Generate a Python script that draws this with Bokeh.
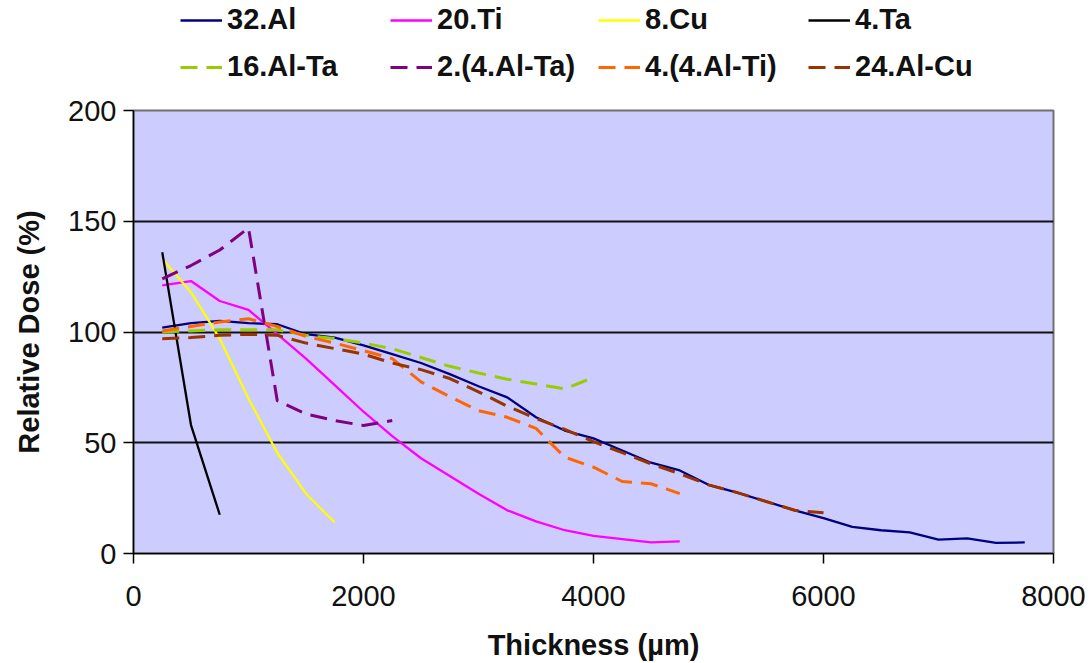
from bokeh.plotting import figure
from bokeh.models import Range1d, Legend, LegendItem, FixedTicker
from bokeh.layouts import column
from bokeh.embed import file_html
from bokeh.resources import INLINE

# ---- data ----
x_al32 = [250, 500, 750, 1000, 1250, 1500, 1750, 2000, 2250, 2500, 2750, 3000, 3250, 3500, 3750, 4000,
          4250, 4500, 4750, 5000, 5250, 5500, 5750, 6000, 6250, 6500, 6750, 7000, 7250, 7500, 7750]
y_al32 = [102, 104, 105, 104, 103.5, 99, 97.5, 94, 90, 86, 81, 75.5, 70.5, 61.5, 55.5, 52,
          46.5, 41, 37.5, 31, 27.5, 23.5, 19.5, 16, 12, 10.5, 9.5, 6.3, 6.8, 4.8, 5]

x_ti20 = [250, 500, 750, 1000, 1250, 1500, 1750, 2000, 2250, 2500, 2750, 3000, 3250, 3500, 3750, 4000,
          4250, 4500, 4750]
y_ti20 = [121, 123, 114, 110, 99, 88, 76, 64, 53, 43, 35, 27, 19.5, 14.5, 10.5, 8, 6.5, 5, 5.5]

x_cu8 = [250, 500, 750, 1000, 1250, 1500, 1750]
y_cu8 = [133, 118, 97, 70, 45.5, 27, 14]

x_ta4 = [250, 500, 750]
y_ta4 = [136, 58, 17.5]

x_alta16 = [250, 500, 750, 1000, 1250, 1500, 1750, 2000, 2250, 2500, 2750, 3000, 3250, 3500, 3750, 4000]
y_alta16 = [100, 100.5, 101, 101, 101, 98.5, 97, 95, 92.5, 88.5, 84.5, 81.5, 78.7, 76.5, 74.3, 79.5]

x_2alta = [250, 500, 750, 1000, 1250, 1500, 1750, 2000, 2250]
y_2alta = [124, 130, 137, 147, 69, 63, 60, 57.8, 60]

x_4alti = [250, 500, 750, 1000, 1250, 1500, 1750, 2000, 2250, 2500, 2750, 3000, 3250, 3500, 3750, 4000,
           4250, 4500, 4750]
y_4alti = [100.5, 102.5, 104.5, 106, 102.5, 98, 95, 91.6, 88, 77.5, 70.8, 64.5, 61.5, 56.5, 43.5, 39,
           32.5, 31.5, 27]

x_alcu24 = [250, 500, 750, 1000, 1250, 1500, 1750, 2000, 2250, 2500, 2750, 3000, 3250, 3500, 3750, 4000,
            4250, 4500, 4750, 5000, 5250, 5500, 5750, 6000]
y_alcu24 = [97, 97.5, 98.5, 99, 98.5, 95, 92.5, 90, 86, 83, 79, 73, 66.5, 61, 56, 50.5,
            45.5, 40.5, 36, 31, 27.5, 23.5, 19.5, 18.4]

x_ticks = [0, 2000, 4000, 6000, 8000]
y_ticks = [0, 50, 100, 150, 200]

series = [
    ("32.Al", x_al32, y_al32, "#000080", "solid", 2.3),
    ("20.Ti", x_ti20, y_ti20, "#FF00FF", "solid", 2.3),
    ("8.Cu", x_cu8, y_cu8, "#FFFF00", "solid", 2.3),
    ("4.Ta", x_ta4, y_ta4, "#000000", "solid", 2.3),
    ("16.Al-Ta", x_alta16, y_alta16, "#99CC00", "17 9", 3),
    ("2.(4.Al-Ta)", x_2alta, y_2alta, "#800080", "17 9", 3),
    ("4.(4.Al-Ti)", x_4alti, y_4alti, "#FF6600", "17 9", 3),
    ("24.Al-Cu", x_alcu24, y_alcu24, "#993300", "17 9", 3),
]

FONT = "Liberation Sans"

# ---------------- main chart ----------------
p = figure(width=1090, height=568, output_backend="svg", toolbar_location=None, title=None,
           x_range=Range1d(0, 8000), y_range=Range1d(0, 200),
           min_border_left=133, min_border_right=37, min_border_top=15, min_border_bottom=110)

p.background_fill_color = "#CCCCFF"
p.border_fill_color = "white"
p.outline_line_color = "#707070"
p.outline_line_width = 2

p.xgrid.grid_line_color = None
p.ygrid.grid_line_color = "#111111"
p.ygrid.grid_line_width = 2
p.ygrid.ticker = FixedTicker(ticks=y_ticks)

for ax, ticks in ((p.xaxis, x_ticks), (p.yaxis, y_ticks)):
    ax.ticker = FixedTicker(ticks=ticks)
    ax.axis_line_color = "#000000"
    ax.axis_line_width = 1.5
    ax.major_tick_line_color = "#000000"
    ax.major_tick_line_width = 1.5
    ax.major_tick_in = 0
    ax.major_tick_out = 10
    ax.minor_tick_line_color = None
    ax.major_label_text_font = FONT
    ax.major_label_text_font_size = "29px"
    ax.major_label_text_color = "#111111"
    ax.axis_label_text_font = FONT
    ax.axis_label_text_font_size = "29px"
    ax.axis_label_text_font_style = "bold"
    ax.axis_label_text_color = "#111111"

p.xaxis.axis_label = "Thickness (µm)"
p.yaxis.axis_label = "Relative Dose (%)"
p.xaxis.major_label_standoff = 22
p.yaxis.major_label_standoff = 7
p.xaxis.axis_label_standoff = 20
p.yaxis.axis_label_standoff = 20

for name, xs, ys, col, dash, lw in series:
    p.line(xs, ys, line_color=col, line_width=lw, line_dash=dash)

# ---------------- legend strip (two rows x four columns) ----------------
# the strip's frame is aligned with the chart frame (starts at x = 133)
pl = figure(width=1090, height=95, output_backend="svg", toolbar_location=None, title=None,
            x_axis_type=None, y_axis_type=None, x_range=Range1d(0, 1), y_range=Range1d(0, 1),
            min_border_left=133, min_border_right=37, min_border_top=0, min_border_bottom=0)
pl.outline_line_color = None
pl.xgrid.grid_line_color = None
pl.ygrid.grid_line_color = None
pl.background_fill_color = "white"
pl.border_fill_color = "white"

col_x = [47, 257, 465, 675]    # legend column starts (px from frame left)
row_y = [59, 12]               # legend row bottoms (px from strip bottom)

for i, (name, xs, ys, col, dash, lw) in enumerate(series):
    # same series drawn in the strip, but outside its visible range: only the legend glyph shows
    r = pl.line(xs, ys, line_color=col, line_width=lw, line_dash=dash)
    leg = Legend(items=[LegendItem(label=name, renderers=[r])],
                 orientation="horizontal", location=(col_x[i % 4], row_y[i // 4]))
    leg.margin = 0
    leg.padding = 0
    leg.glyph_width = 42
    leg.glyph_height = 20
    leg.label_standoff = 5
    leg.label_text_font = FONT
    leg.label_text_font_size = "29px"
    leg.label_text_font_style = "bold"
    leg.label_text_color = "#111111"
    leg.border_line_color = None
    leg.background_fill_alpha = 0
    pl.add_layout(leg)

layout = column(pl, p, spacing=0)
open("out.html", "w").write(file_html(layout, INLINE))
